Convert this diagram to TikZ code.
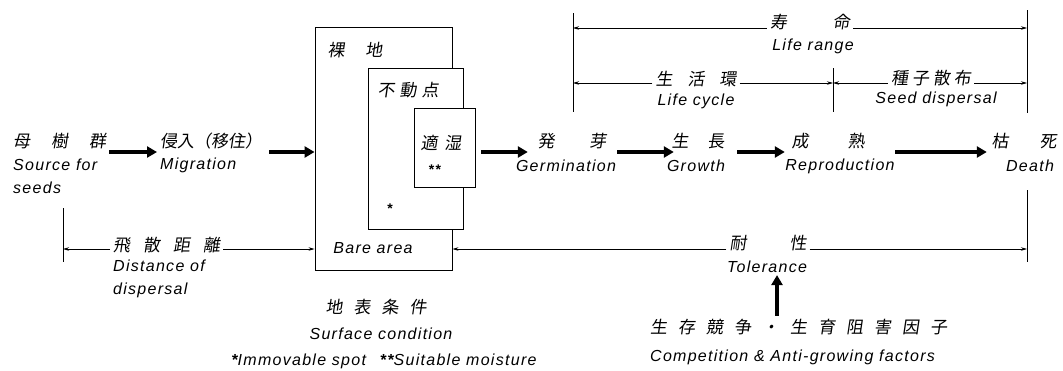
\documentclass[tikz,border=0pt]{standalone}
\usepackage{fontspec}
\usetikzlibrary{arrows.meta}
\newfontfamily\cjk[FakeSlant=0.15]{Noto Sans CJK JP}
\newfontfamily\en[LetterSpace=8]{Liberation Sans}
\tikzset{
  cj/.style={font=\cjk\fontsize{17}{20}\selectfont, inner sep=3pt},
  ej/.style={font=\en\itshape\fontsize{16}{23}\selectfont, inner sep=2pt},
  starmark/.style={font=\en\bfseries\fontsize{14}{14}\selectfont, inner sep=1pt},
  big/.style={line width=3.6pt, -{Triangle[length=10pt,width=11pt]}},
  dim/.style={line width=0.7pt, -{Stealth[length=6pt,width=3.5pt]}},
  tick/.style={line width=0.9pt},
  box/.style={draw, line width=0.9pt, fill=white, inner sep=0pt},
}
\begin{document}
\begin{tikzpicture}[x=1pt,y=-1pt]
\useasboundingbox (0,0) rectangle (1063,370);
% reference coordinates
\coordinate (row) at (0,152);
\coordinate (upx) at (777,0);
\coordinate (vLt) at (573,13);  \coordinate (vLb) at (573,112);
\coordinate (vRt) at (1027,10); \coordinate (vRb) at (1027,113);
\coordinate (vMt) at (833,68);  \coordinate (vMb) at (833,112);
\coordinate (lrL) at (573,28);  \coordinate (lrR) at (1027,28);
\coordinate (lcL) at (573,83);  \coordinate (lcR) at (833,83);
\coordinate (sdR) at (1027,83);
\coordinate (dLt) at (63,208);  \coordinate (dLb) at (63,262);
\coordinate (dRt) at (1027,190); \coordinate (dRb) at (1027,262);
\coordinate (dL) at (63,249);   \coordinate (dR) at (1027,249);

% boxes
\node[box, minimum width=137pt, minimum height=243pt] (outer) at (383.5,148.5) {};
\node[box, minimum width=95pt, minimum height=161pt] (middle) at (415.5,148.5) {};
\node[box, minimum width=61pt, minimum height=79pt] (inner) at (444.5,147.5) {};
\node[cj] (rachi) at (355,50) {裸\hspace{21pt}地};
\node[ej] (bareE) at (373,248) {Bare area};
\node[cj] (fudo) at (408,90) {不\hspace{5pt}動\hspace{5pt}点};
\node[starmark] (st1) at (390,209) {*};
\node[cj] (teki) at (441,143) {適\hspace{7pt}湿};
\node[starmark] (st2) at (435,170) {**};

% main row
\node[cj, anchor=west] (src) at (10,141) {母\hspace{21pt}樹\hspace{21pt}群};
\node[ej, anchor=west, align=left] (srcE) at (11,176.5) {Source for\\seeds};
\node[cj, anchor=west] (migC) at (157,141) {侵入（移住）};
\node[ej, anchor=west] (migE) at (158,165) {Migration};
\node[cj] (germC) at (572,141) {発\hspace{35pt}芽};
\node[ej] (germE) at (566,166) {Germination};
\node[cj] (growC) at (698,141) {生\hspace{19pt}長};
\node[ej] (growE) at (696,166) {Growth};
\node[cj] (reprC) at (828,141) {成\hspace{39pt}熟};
\node[ej] (reprE) at (840,166) {Reproduction};
\node[cj] (deathC) at (1024,141) {枯\hspace{31pt}死};
\node[ej] (deathE) at (1030,166) {Death};

\draw[big] (src.east |- row) -- (migC.west |- row);
\draw[big, shorten <=4pt] (migC.east |- row) -- (outer.west |- row);
\draw[big, shorten <=6pt, shorten >=6.5pt] (inner.east |- row) -- (germC.west |- row);
\draw[big, shorten <=7.5pt, shorten >=-5.5pt] (germC.east |- row) -- (growC.west |- row);
\draw[big, shorten <=9.5pt, shorten >=3.5pt] (growC.east |- row) -- (reprC.west |- row);
\draw[big, shorten <=27.5pt, shorten >=1.5pt] (reprC.east |- row) -- (deathC.west |- row);

% top brackets
\node[cj] (lifeC) at (810,22) {寿\hspace{46pt}命};
\node[ej] (lifeE) at (813,46) {Life range};
\node[cj] (cycC) at (696,79) {生\hspace{15pt}活\hspace{15pt}環};
\node[ej] (cycE) at (696,101) {Life cycle};
\node[cj] (seedC) at (931,78) {種\hspace{4pt}子\hspace{4pt}散\hspace{4pt}布};
\node[ej] (seedE) at (936,99) {Seed dispersal};
\draw[tick] (vLt) -- (vLb);
\draw[tick] (vRt) -- (vRb);
\draw[tick] (vMt) -- (vMb);
\draw[dim] (lifeC.west |- lrL) -- (lrL);
\draw[dim] (lifeC.east |- lrR) -- (lrR);
\draw[dim] (cycC.west |- lcL) -- (lcL);
\draw[dim] (cycC.east |- lcR) -- (lcR);
\draw[dim] (seedC.west |- lcR) -- (lcR);
\draw[dim] (seedC.east |- sdR) -- (sdR);

% bottom brackets
\node[cj, anchor=west] (hisan) at (110,245) {飛\hspace{13pt}散\hspace{13pt}距\hspace{13pt}離};
\node[ej, anchor=west, align=left] (hisanE) at (111,278.5) {Distance of\\dispersal};
\node[cj] (tai) at (768,243) {耐\hspace{43pt}性};
\node[ej] (taiE) at (767,267) {Tolerance};
\draw[tick] (dLt) -- (dLb);
\draw[tick] (dRt) -- (dRb);
\draw[dim] (hisan.west |- dL) -- (dL);
\draw[dim] (hisan.east |- dL) -- (outer.west |- dL);
\draw[dim] (tai.west |- dL) -- (outer.east |- dL);
\draw[dim] (tai.east |- dR) -- (dR);

% factors
\node[cj, anchor=west] (comp) at (647,327) {生\hspace{11pt}存\hspace{11pt}競\hspace{11pt}争\hspace{11pt}・\hspace{11pt}生\hspace{11pt}育\hspace{11pt}阻\hspace{11pt}害\hspace{11pt}因\hspace{11pt}子};
\node[ej, anchor=west] (compE) at (648,357) {Competition \& Anti-growing factors};
\draw[big] (comp.north -| upx) -- (taiE.south -| upx);

% surface condition
\node[cj] (chihyo) at (376,307) {地\hspace{11pt}表\hspace{11pt}条\hspace{11pt}件};
\node[ej] (surfE) at (381,334) {Surface condition};
\node[ej] (note) at (384,361) {{\bfseries *}Immovable spot\hspace{14pt}{\bfseries **}Suitable moisture};
\end{tikzpicture}
\end{document}
